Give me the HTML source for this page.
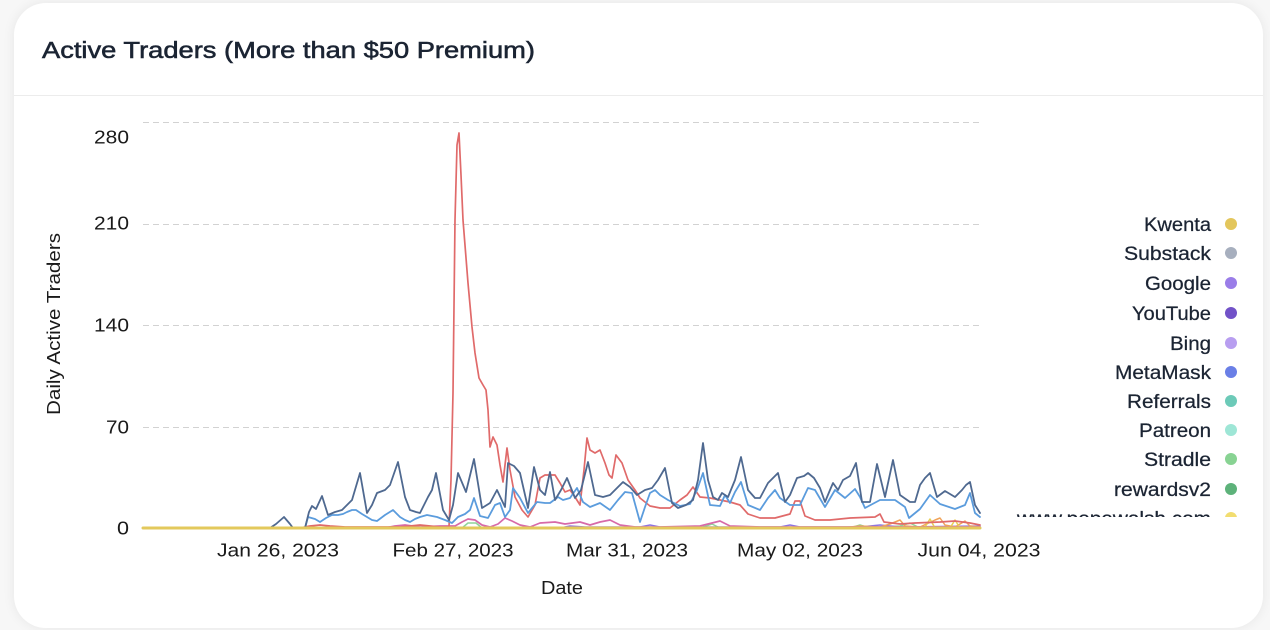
<!DOCTYPE html>
<html>
<head>
<meta charset="utf-8">
<style>
html,body{margin:0;padding:0;width:1270px;height:630px;overflow:hidden;background:#f7f7f7;}
.card{position:absolute;left:14px;top:3px;width:1249px;height:625px;background:#fff;border-radius:32px;box-shadow:0 0 12px rgba(0,0,0,0.07);}
svg{position:absolute;left:0;top:0;}
text{font-family:"Liberation Sans",Arial,sans-serif;}
</style>
</head>
<body>
<div class="card"></div>
<svg width="1270" height="630" viewBox="0 0 1270 630" xmlns="http://www.w3.org/2000/svg">
  <defs>
    <clipPath id="legclip"><rect x="1000" y="200" width="260" height="317"/></clipPath>
  </defs>
  <!-- header -->
  <text x="42" y="58" font-size="23" font-weight="400" fill="#1b2433" stroke="#1b2433" stroke-width="0.55" textLength="493" lengthAdjust="spacingAndGlyphs">Active Traders (More than $50 Premium)</text>
  <line x1="14" y1="95.5" x2="1263" y2="95.5" stroke="#ececec" stroke-width="1"/>

  <!-- grid -->
  <g stroke="#d2d2d2" stroke-width="1" stroke-dasharray="6 4">
    <line x1="143" y1="122.5" x2="980" y2="122.5"/>
    <line x1="143" y1="224.5" x2="980" y2="224.5"/>
    <line x1="143" y1="325.5" x2="980" y2="325.5"/>
    <line x1="143" y1="427.5" x2="980" y2="427.5"/>
  </g>

  <!-- y ticks -->
  <g font-size="18" fill="#1a1a1a" text-anchor="end">
    <text x="129" y="143.5" textLength="35" lengthAdjust="spacingAndGlyphs">280</text>
    <text x="129" y="229.5" textLength="35" lengthAdjust="spacingAndGlyphs">210</text>
    <text x="129" y="331.5" textLength="35" lengthAdjust="spacingAndGlyphs">140</text>
    <text x="129" y="433.5" textLength="23" lengthAdjust="spacingAndGlyphs">70</text>
    <text x="129" y="534.5" textLength="12" lengthAdjust="spacingAndGlyphs">0</text>
  </g>
  <text transform="translate(60,324) rotate(-90)" font-size="18" fill="#1a1a1a" text-anchor="middle" textLength="182" lengthAdjust="spacingAndGlyphs">Daily Active Traders</text>

  <!-- x ticks -->
  <g font-size="18.5" fill="#1a1a1a" text-anchor="middle">
    <text x="278" y="556.5" textLength="122" lengthAdjust="spacingAndGlyphs">Jan 26, 2023</text>
    <text x="453" y="556.5" textLength="121" lengthAdjust="spacingAndGlyphs">Feb 27, 2023</text>
    <text x="627" y="556.5" textLength="122" lengthAdjust="spacingAndGlyphs">Mar 31, 2023</text>
    <text x="800" y="556.5" textLength="126" lengthAdjust="spacingAndGlyphs">May 02, 2023</text>
    <text x="979" y="556.5" textLength="123" lengthAdjust="spacingAndGlyphs">Jun 04, 2023</text>
  </g>
  <text x="562" y="594" font-size="18" fill="#1a1a1a" text-anchor="middle" textLength="42" lengthAdjust="spacingAndGlyphs">Date</text>

  <!-- series -->
  <g fill="none" stroke-linejoin="round" stroke-linecap="round">
    <!-- minor near-zero series -->
    <polyline stroke="#8fd39a" stroke-width="1.5" points="143,528 462,528 468,523 476,523 482,528 700,528 712,524 720,528 850,528 860,525 870,528 900,526 910,523 918,527 980,527"/>
    <polyline stroke="#8e74e0" stroke-width="1.5" points="143,528 560,528 570,526 585,527 640,527 650,525 660,527 780,527 790,525 800,527 860,527 880,525 900,527 980,526"/>
    <polyline stroke="#f0a35a" stroke-width="1.5" points="143,528 840,528 860,526 880,527 890,524 900,520 905,526 920,527 935,520 940,518 945,525 955,527 965,521 970,526 980,527"/>
    <polyline stroke="#e8cf55" stroke-width="1.5" points="143,528 920,528 925,527 930,519 935,528 950,528 955,520 960,528 980,528"/>
    <!-- pink -->
    <polyline stroke="#d76aa9" stroke-width="1.7" points="143,528 385,528 395,526 405,525 420,527 440,526 455,526 462,522 468,519 475,520 482,525 490,527 498,524 505,518 512,521 520,525 530,527 540,523 555,522 565,524 580,522 590,525 600,522 610,520 620,525 635,527 660,527 700,526 720,521 730,526 760,527 980,527"/>
    <!-- red -->
    <polyline stroke="#e06a6a" stroke-width="1.7" points="143,528 300,528 310,526 320,525 330,526 345,527 380,527 400,527 420,525 440,527 449,527 451,480 453,393 455,220 457,145 459,133 461,175 463,220 468,283 472,327 475,353 479,378 483,385 486,390 488,410 490,447 493,437 497,445 500,465 503,482 507,448 510,470 515,497 522,510 528,517 535,505 540,478 545,475 555,475 560,483 565,492 570,490 575,497 580,505 584,470 587,438 590,450 595,453 600,450 605,463 609,475 612,478 616,455 622,463 628,480 635,490 640,498 650,506 660,508 670,508 680,500 687,495 693,487 700,497 710,498 720,500 730,502 740,505 748,514 760,518 775,518 790,514 795,501 800,501 805,516 815,520 830,520 850,518 875,517 880,514 884,522 900,524 915,523 940,522 955,521 970,523 980,525"/>
    <!-- light blue -->
    <polyline stroke="#5b9cdd" stroke-width="1.8" points="143,528 305,528 308,517 315,519 320,522 326,518 332,515 338,515 343,514 347,512 352,510 356,510 362,514 367,517 372,520 377,521 385,515 393,510 400,517 405,520 410,522 415,519 420,517 427,515 432,516 437,517 445,520 452,523 458,517 465,514 470,510 474,498 480,516 488,518 495,505 500,503 505,517 510,510 513,488 520,498 528,513 537,502 545,503 550,503 558,497 563,500 570,498 577,488 583,502 590,507 600,503 610,510 618,500 625,492 632,493 640,522 645,507 650,493 655,490 660,495 668,500 680,506 690,504 697,490 703,473 710,505 720,506 725,495 730,503 735,492 741,482 748,505 760,510 768,498 775,490 780,498 790,505 800,505 808,488 815,490 825,507 835,490 845,498 855,489 860,497 865,508 880,500 895,500 905,507 909,518 920,509 930,495 940,504 955,509 965,505 970,493 975,513 980,517"/>
    <!-- dark slate -->
    <polyline stroke="#4f6990" stroke-width="1.8" points="143,528 270,528 276,524 284,517 290,524 293,528 305,528 309,512 312,506 316,509 322,496 328,515 335,512 342,510 347,505 352,500 360,473 367,513 372,505 377,493 385,490 390,485 398,462 405,497 410,510 416,512 420,513 424,505 428,497 432,490 436,473 443,510 449,520 453,505 458,473 466,492 474,459 482,508 490,503 497,490 505,507 508,463 514,466 520,473 528,508 534,467 540,490 545,495 550,472 555,500 561,490 567,478 575,498 581,490 588,462 595,495 603,497 610,495 617,488 623,482 630,487 637,495 645,490 652,488 658,480 665,468 672,503 678,508 686,505 693,500 698,480 703,443 708,480 713,497 718,500 722,493 728,497 735,480 741,457 748,490 755,498 760,498 768,483 773,478 778,473 785,502 790,495 797,478 804,476 808,473 814,478 820,488 825,502 830,490 833,483 838,490 843,480 850,476 856,463 862,502 870,502 877,464 885,497 893,460 900,495 910,502 915,502 920,485 925,478 930,473 937,497 945,491 955,497 962,490 966,485 970,482 975,505 980,513"/>
    <!-- yellow zero line -->
    <line x1="143" y1="528" x2="980" y2="528" stroke="#e3c95c" stroke-width="3"/>
  </g>

  <!-- legend -->
  <g clip-path="url(#legclip)" font-size="19" fill="#1b2433" stroke="#1b2433" stroke-width="0.25" text-anchor="end">
    <text x="1211" y="231" textLength="67" lengthAdjust="spacingAndGlyphs">Kwenta</text>
    <text x="1211" y="260" textLength="87" lengthAdjust="spacingAndGlyphs">Substack</text>
    <text x="1211" y="290" textLength="66" lengthAdjust="spacingAndGlyphs">Google</text>
    <text x="1211" y="320" textLength="79" lengthAdjust="spacingAndGlyphs">YouTube</text>
    <text x="1211" y="350" textLength="41" lengthAdjust="spacingAndGlyphs">Bing</text>
    <text x="1211" y="379" textLength="96" lengthAdjust="spacingAndGlyphs">MetaMask</text>
    <text x="1211" y="408" textLength="84" lengthAdjust="spacingAndGlyphs">Referrals</text>
    <text x="1211" y="437" textLength="72" lengthAdjust="spacingAndGlyphs">Patreon</text>
    <text x="1211" y="466" textLength="67" lengthAdjust="spacingAndGlyphs">Stradle</text>
    <text x="1211" y="496" textLength="97" lengthAdjust="spacingAndGlyphs">rewardsv2</text>
    <text x="1211" y="525" textLength="194" lengthAdjust="spacingAndGlyphs">www.pepewalsh.com</text>
  </g>
  <g clip-path="url(#legclip)" stroke="none">
    <circle cx="1231" cy="224" r="6" fill="#e3c65c"/>
    <circle cx="1231" cy="253" r="6" fill="#a7afbe"/>
    <circle cx="1231" cy="283" r="6" fill="#9a7de8"/>
    <circle cx="1231" cy="313" r="6" fill="#7252c8"/>
    <circle cx="1231" cy="343" r="6" fill="#b89ef0"/>
    <circle cx="1231" cy="372" r="6" fill="#6a7fe6"/>
    <circle cx="1231" cy="401" r="6" fill="#6ccab8"/>
    <circle cx="1231" cy="430" r="6" fill="#9ee6d6"/>
    <circle cx="1231" cy="459" r="6" fill="#88d393"/>
    <circle cx="1231" cy="489" r="6" fill="#5db27a"/>
    <circle cx="1231" cy="518" r="6" fill="#f2dd70"/>
  </g>
</svg>
</body>
</html>
